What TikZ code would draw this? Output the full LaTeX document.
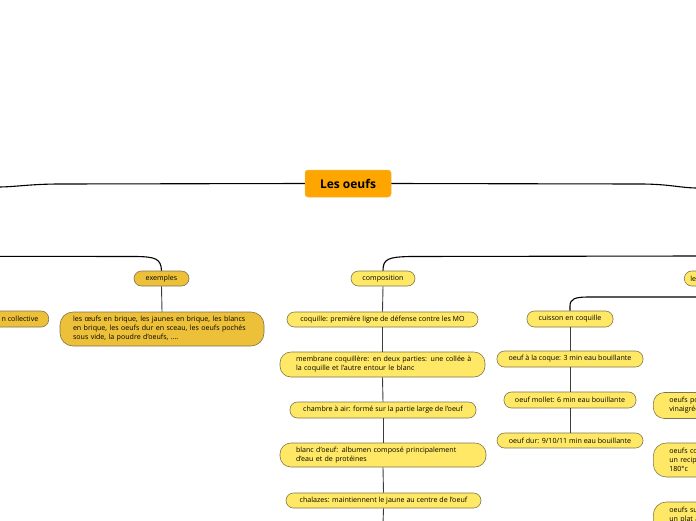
\documentclass[tikz,border=0pt]{standalone}
\usepackage{fontspec}
\setmainfont{Open Sans}
\definecolor{orangec}{HTML}{FFA500}
\definecolor{orangeb}{HTML}{F2B64A}
\definecolor{lighty}{HTML}{FFE866}
\definecolor{goldy}{HTML}{EDC03A}
\definecolor{bordc}{HTML}{7F7550}
\definecolor{linec}{HTML}{3C3C3C}
\tikzset{
  txt/.style={font=\fontsize{7.1}{9}\selectfont},
  base/.style={rectangle, draw=bordc, line width=0.6pt, inner sep=0pt, txt},
  lite/.style={base, fill=lighty},
  gold/.style={base, fill=goldy},
  pill/.style={rounded corners=7.5pt},
  pill2/.style={rounded corners=11pt},
  pill3/.style={rounded corners=13pt},
  mainline/.style={draw=black, line width=1.1pt},
  subline/.style={draw=linec, line width=0.9pt},
}
\begin{document}
\begin{tikzpicture}[x=1pt,y=-1pt]
\path[use as bounding box] (0,0) rectangle (696,520);
\clip (0,0) rectangle (696,520);
% central
\node[rectangle, rounded corners=3pt, fill=orangec, draw=orangeb, line width=0.5pt, minimum width=86pt, minimum height=27pt, inner sep=0pt, font=\fontsize{12}{14}\selectfont\bfseries] (root) at (348,183.5) {Les oeufs};
\coordinate (lend) at (-2,187);
\coordinate (rend) at (698,188);
\draw[mainline] (root.west) -- (60,184) .. controls (30,184) and (15,187) .. (lend);
\draw[mainline] (root.east) -- (640,184) .. controls (670,184) and (680,188) .. (rend);
% second level
\node[gold, pill, minimum width=55pt, minimum height=15pt] (ex) at (161.5,278.5) {exemples};
\node[lite, pill, minimum width=64pt, minimum height=15pt] (comp) at (383,278.5) {composition};
\node[lite, pill, minimum width=80pt, minimum height=15pt, anchor=west, align=left, text width=80pt] (les) at (684,278.5) {\hspace*{6pt}les modes de cuisson};
\coordinate (l2end) at (-2,256.3);
\coordinate (r2end) at (698,256);
\draw[mainline] (ex.north) .. controls (161,259) and (156,256.6) .. (135,256.5) -- (l2end);
\draw[mainline] (comp.north) .. controls (383,259) and (388,257) .. (410,256.5) -- (r2end);
% left partial
\node[gold, pill, minimum width=80pt, minimum height=16pt, anchor=east] (coll) at (49,319) {};
\node[txt, anchor=east, inner sep=0pt] (colltext) at (38.5,319) {n collective};
% exemples child
\node[gold, pill3, minimum width=204pt, minimum height=34pt, align=left, text width=204pt] (exc) at (162,329) {\hspace*{13pt}les œufs en brique, les jaunes en brique, les blancs\\\hspace*{13pt}en brique, les oeufs dur en sceau, les oeufs pochés\\\hspace*{13pt}sous vide, la poudre d'oeufs, ....};
\draw[subline] (ex.south) -- (exc.north);
% composition children
\node[lite, pill, minimum width=191pt, minimum height=15pt] (coq) at (382.5,319.5) {coquille: première ligne de défense contre les MO};
\node[lite, pill2, minimum width=205pt, minimum height=25pt, align=left, text width=205pt] (memb) at (382.5,364.5) {\hspace*{16pt}membrane coquillère: en deux parties: une collée à\\\hspace*{16pt}la coquille et l'autre entour le blanc};
\node[lite, pill, minimum width=186pt, minimum height=16pt] (cha) at (383,410) {chambre à air: formé sur la partie large de l'oeuf};
\node[lite, pill2, minimum width=206pt, minimum height=24pt, align=left, text width=206pt] (blanc) at (383,455) {\hspace*{16pt}blanc d'oeuf: albumen composé principalement\\\hspace*{16pt}d'eau et de protéines};
\node[lite, pill, minimum width=195pt, minimum height=15pt] (chal) at (383.5,500.5) {chalazes: maintiennent le jaune au centre de l'oeuf};
\coordinate (cend) at (383,525);
\draw[subline] (comp.south) -- (coq.north);
\draw[subline] (coq.south) -- (memb.north);
\draw[subline] (memb.south) -- (cha.north);
\draw[subline] (cha.south) -- (blanc.north);
\draw[subline] (blanc.south) -- (chal.north);
\draw[subline] (chal.south) -- (cend);
% cuisson
\node[lite, pill, minimum width=86pt, minimum height=16pt] (cuis) at (570,319) {cuisson en coquille};
\coordinate (r3end) at (698,297);
\draw[mainline] (cuis.north) -- (570,306) .. controls (570,299) and (575,297) .. (588,297) -- (r3end);
\node[lite, pill, minimum width=146pt, minimum height=16pt] (coque) at (570,359) {oeuf à la coque: 3 min eau bouillante};
\node[lite, pill, minimum width=132pt, minimum height=16pt] (mol) at (570,400) {oeuf mollet: 6 min eau bouillante};
\node[lite, pill, minimum width=146pt, minimum height=15pt] (dur) at (570,440.5) {oeuf dur: 9/10/11 min eau bouillante};
\draw[subline] (cuis.south) -- (coque.north);
\draw[subline] (coque.south) -- (mol.north);
\draw[subline] (mol.south) -- (dur.north);
% right partial column
\node[lite, pill2, minimum width=150pt, minimum height=26pt, anchor=west, align=left, text width=150pt] (poch) at (653,405.5) {\hspace*{16pt}oeufs pochés: dans l'eau\\\hspace*{16pt}vinaigrée frémissante};
\node[lite, pill3, minimum width=150pt, minimum height=34pt, anchor=west, align=left, text width=150pt] (cocot) at (653,460) {\hspace*{16pt}oeufs cocotte: cuits dans\\\hspace*{16pt}un recipient au four à\\\hspace*{16pt}180°c};
\node[lite, pill3, minimum width=150pt, minimum height=34pt, anchor=west, align=left, text width=150pt] (plat) at (653,519) {\hspace*{16pt}oeufs sur le plat: dans\\\hspace*{16pt}un plat au four\\\hspace*{16pt}};
\end{tikzpicture}
\end{document}
